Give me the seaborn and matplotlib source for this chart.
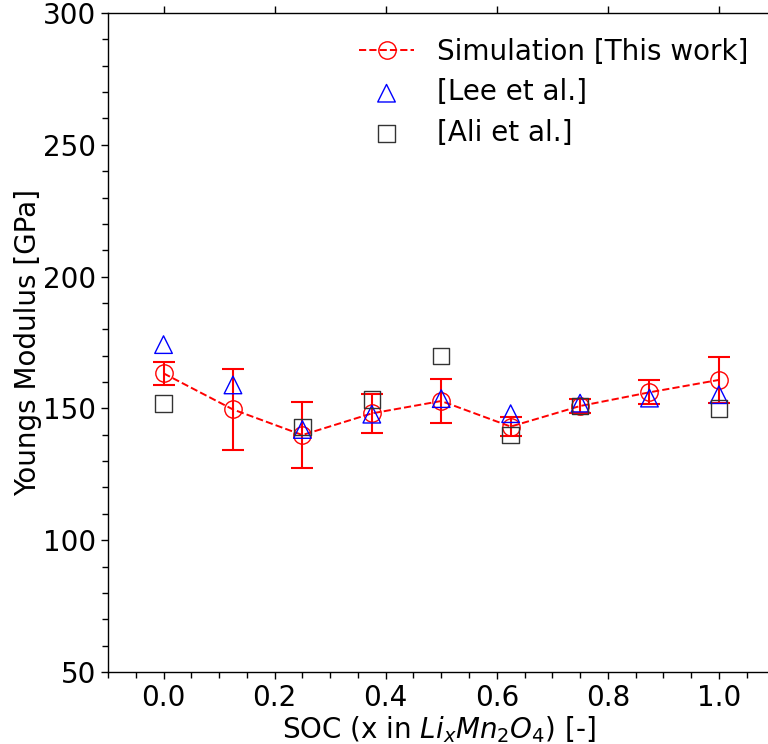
import numpy as np
import pandas as pd
import matplotlib
matplotlib.use("Agg")
import matplotlib.pyplot as plt
from matplotlib.ticker import MultipleLocator
import seaborn as sns

# State of charge (x in LixMn2O4)
soc = [0.0, 0.125, 0.25, 0.375, 0.5, 0.625, 0.75, 0.875, 1.0]

# Simulated Young's modulus [GPa] and its spread
sim_mean = [163.3, 149.6, 139.9, 148.1, 152.8, 143.1, 150.9, 156.1, 160.8]
sim_err = [4.3, 15.4, 12.4, 7.4, 8.5, 3.6, 2.6, 4.5, 8.8]

# Reference values from the literature
lee_vals = [174.2, 158.9, 142.0, 147.8, 153.7, 148.0, 152.0, 153.9, 155.2]
ali_vals = [151.9, np.nan, 142.9, 153.4, 169.9, 139.9, 151.0, np.nan, 149.9]

sim_label = "Simulation [This work]"
lee_label = "[Lee et al.]"
ali_label = "[Ali et al.]"

df = pd.DataFrame({"soc": soc, "sim": sim_mean, "err": sim_err,
                   "lee": lee_vals, "ali": ali_vals})

sns.set_style("ticks")
plt.rcParams["font.family"] = ["DejaVu Sans"]
plt.rcParams["mathtext.fontset"] = "dejavusans"
plt.rcParams["text.color"] = "black"
plt.rcParams["axes.labelcolor"] = "black"
plt.rcParams["xtick.color"] = "black"
plt.rcParams["ytick.color"] = "black"

fig = plt.figure(figsize=(7.68, 7.44), dpi=100)
ax = fig.add_axes([108 / 768, 72 / 744, 662 / 768, 659 / 744])

fs = 20

# simulation: dashed line with open circles, plus error bars
ax.errorbar(df["soc"], df["sim"], yerr=df["err"], fmt="none",
            ecolor="red", elinewidth=1.5, capsize=8, capthick=1.5, zorder=2)
sns.lineplot(data=df, x="soc", y="sim", ax=ax, color="red", linestyle="--",
             linewidth=1.4, marker="o", markersize=12.5, markerfacecolor="none",
             markeredgecolor="red", markeredgewidth=1.0, label=sim_label,
             zorder=3)

# literature data
sns.scatterplot(data=df, x="soc", y="lee", ax=ax, marker="^", s=160,
                facecolor="none", edgecolor="blue", linewidth=1.0,
                label=lee_label, zorder=4)
sns.scatterplot(data=df.dropna(subset=["ali"]), x="soc", y="ali", ax=ax,
                marker="s", s=140, facecolor="none", edgecolor="0.2",
                linewidth=1.0, label=ali_label, zorder=4)

ax.set_xlim(-0.1, 1.092)
ax.set_ylim(50, 300)
ax.xaxis.set_major_locator(MultipleLocator(0.2))
ax.xaxis.set_minor_locator(MultipleLocator(0.05))
ax.yaxis.set_major_locator(MultipleLocator(50))
ax.yaxis.set_minor_locator(MultipleLocator(10))

ax.tick_params(axis="both", which="major", direction="out", length=5,
               width=1, labelsize=fs, colors="black")
ax.tick_params(axis="both", which="minor", direction="out", length=4, width=1)
ax.tick_params(axis="x", which="major", top=True)
ax.tick_params(axis="x", which="minor", top=False)
for name, s in ax.spines.items():
    s.set_visible(name != "right")
    s.set_linewidth(1.0)
    s.set_color("black")

ax.set_xlabel(r"SOC (x in $Li_xMn_2O_4$) [-]", fontsize=fs, labelpad=2)
ax.set_ylabel("Youngs Modulus [GPa]", fontsize=fs, labelpad=1)

ax.legend(loc="upper left", bbox_to_anchor=(0.341, 1.0), frameon=False,
          fontsize=fs, handlelength=2.0, handletextpad=0.8,
          labelspacing=0.45)

fig.savefig("out.png", dpi=100)
